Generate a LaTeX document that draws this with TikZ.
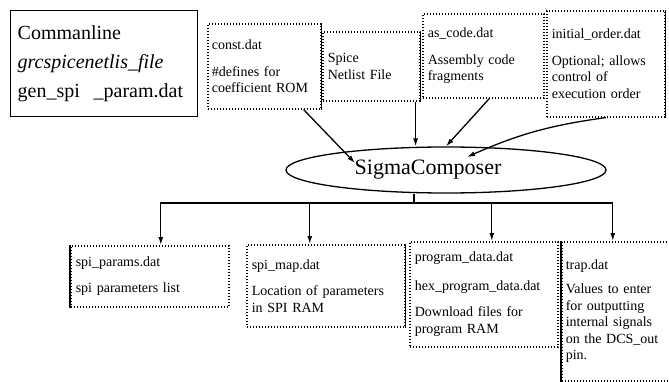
\documentclass[tikz,border=0pt]{standalone}
\usepackage{fontspec}
\setmainfont{Liberation Serif}
\usetikzlibrary{arrows.meta, positioning, shapes.geometric, calc}

\begin{document}
\begin{tikzpicture}[
  x=1pt, y=-1pt,
  cmdbox/.style={rectangle, draw, line width=1.4pt, align=left, anchor=north west, inner xsep=7pt, font=\fontsize{20}{29}\selectfont},
  filebox/.style={rectangle, draw, dash pattern=on 1.2pt off 1.8pt, line width=1.6pt, align=left, anchor=north west, inner xsep=5pt, inner ysep=2pt, font=\fontsize{14}{16.5}\selectfont},
  composer/.style={ellipse, draw, line width=1.3pt, minimum width=320pt, minimum height=46pt, inner sep=0pt, font=\fontsize{22}{26}\selectfont},
  solidedge/.style={line width=1.6pt},
  line/.style={line width=1.3pt},
  arrow/.style={-{Latex[length=8pt,width=5pt]}, line width=1.3pt}
]
\useasboundingbox (0,0) rectangle (669,382);

% Command line box
\node[cmdbox, text width=173pt, minimum height=106pt] (cmdline) at (10,10) {Commanline\\\textit{grcspicenetlis\_file}\\\makebox[76pt][l]{gen\_spi}\_param.dat};

% Input files (top row)
\node[filebox, text width=105pt, inner xsep=4pt, minimum height=85pt] (const) at (207,23) {const.dat\\[10pt]\#defines for\\coefficient ROM};
\node[filebox, text width=87pt, minimum height=69pt] (spice) at (322,31) {Spice\\Netlist File};
\node[filebox, text width=111pt, minimum height=84pt] (ascode) at (422,13) {as\_code.dat\\[10pt]Assembly code\\fragments};
\node[filebox, text width=108pt, minimum height=106pt] (initorder) at (546,10) {initial\_order.dat\\[10pt]Optional; allows\\control of\\execution order};

% Composer (text sits a little left of centre)
\node[composer] (sigma) at (446,170) {SigmaComposer\hspace*{36pt}};

% Output files (bottom row)
\node[filebox, text width=148pt, minimum height=61pt] (params) at (70,245) {spi\_params.dat\\[10pt]spi parameters list};
\node[filebox, text width=148pt, minimum height=82pt] (spimap) at (246,244) {spi\_map.dat\\[10pt]Location of parameters\\in SPI RAM};
\node[filebox, text width=138pt, minimum height=105pt] (progdata) at (409,241) {program\_data.dat\\[12pt]hex\_program\_data.dat\\[10pt]Download files for\\program RAM};
\node[filebox, text width=104pt, inner xsep=4pt, minimum height=139pt] (trap) at (561,241) {trap.dat\\[8pt]Values to enter\\for outputting\\internal signals\\on the DCS\_out\\pin.};

% Solid sides of the dotted boxes
\draw[solidedge] (const.north east) -- (const.south east);
\draw[solidedge] (spice.north east) -- (spice.south east);
\draw[solidedge] (initorder.north east) -- (initorder.south east);
\draw[solidedge] (params.north west) -- (params.south west);
\draw[solidedge] (spimap.north east) -- (spimap.south east);
\draw[solidedge] (trap.north west) -- (trap.south west);

% Arrows - inputs into composer
\coordinate (spiceout) at ([xshift=-5pt]spice.south east);
\draw[arrow] ([xshift=-18pt]const.south east) -- ($(sigma.center)+(-91,-7)$);
\draw[arrow] (spiceout) -- (spiceout |- sigma.north);
\draw[arrow] ([xshift=6pt]ascode.south) -- (sigma.north);
\draw[arrow] (initorder.south) to[bend right=8] ($(sigma.center)+(21,-13)$);

% Arrows - composer to outputs
\coordinate (hub) at (414,203);
\draw[line] (sigma.south -| hub) -- (hub);
\draw[arrow] (hub) -| ([xshift=11pt]params.north);
\draw[arrow] (hub) -| ([xshift=-16pt]spimap.north);
\draw[arrow] (hub) -| ([xshift=8pt]progdata.north);
\draw[arrow] (hub) -| ([xshift=-5pt]trap.north);

\end{tikzpicture}
\end{document}
